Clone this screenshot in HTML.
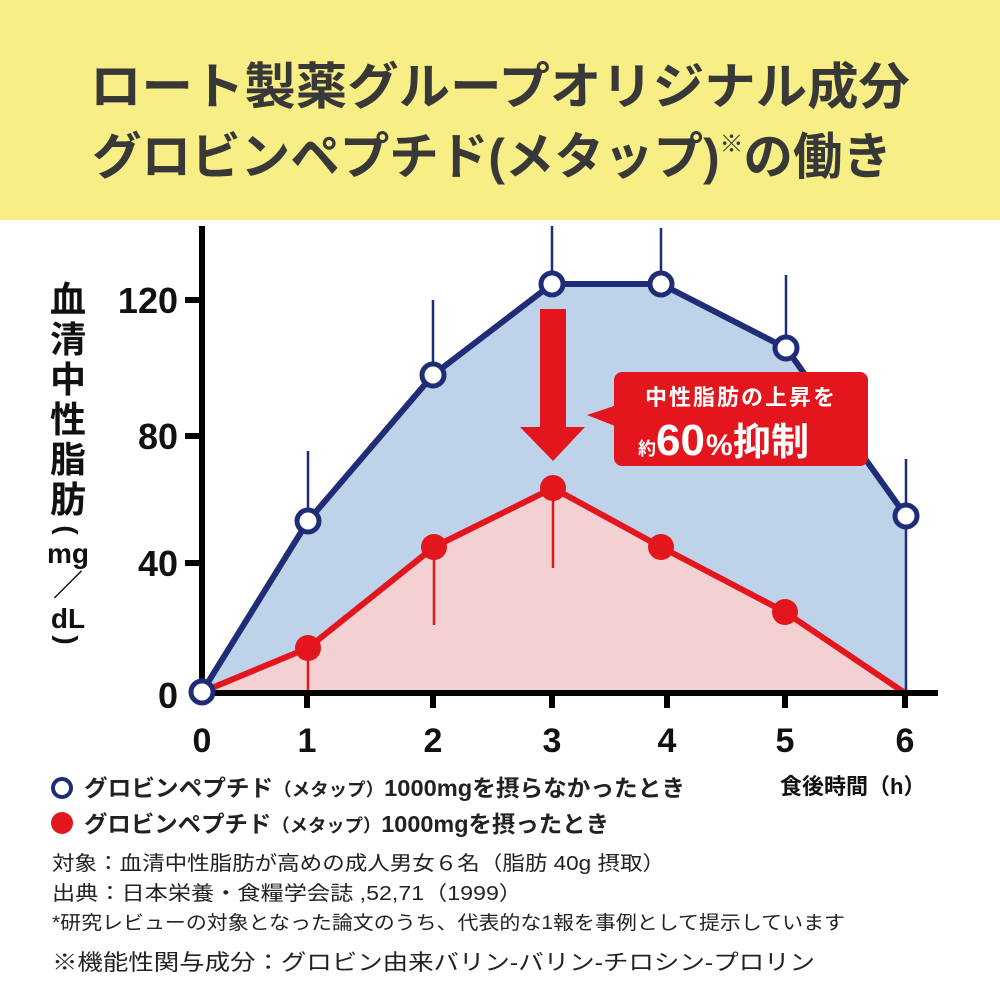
<!DOCTYPE html>
<html><head><meta charset="utf-8"><style>
body{margin:0;width:1000px;height:1000px;background:#fff;overflow:hidden;font-family:"Liberation Sans","Noto Sans CJK JP",sans-serif;}
.hdr{position:absolute;left:0;top:0;width:1000px;height:220px;background:#f7ee86;}
</style></head><body>
<div class="hdr"></div>
<svg width="1000" height="1000" style="position:absolute;left:0;top:0" font-family="Liberation Sans, Noto Sans CJK JP, sans-serif">
<text x="90" y="104" font-size="50" font-weight="bold" fill="#383838" textLength="820" lengthAdjust="spacingAndGlyphs">ロート製薬グループオリジナル成分</text>
<text x="92" y="174" font-size="50" font-weight="bold" fill="#383838" textLength="800" lengthAdjust="spacingAndGlyphs">グロビンペプチド(メタップ)<tspan font-size="24" dy="-22">※</tspan><tspan dy="22">の働き</tspan></text>
<polygon points="202,692 308,521 433,375 552,284 661,284 786,348 906,516 906,693 202,693" fill="#bed3e9"/>
<polygon points="202,692 308,648 434,547 553,488 661,547 785,612 905,693 202,693" fill="#f3d0d2"/>
<g stroke="#1f2d78" stroke-width="2.5">
<line x1="308" y1="451" x2="308" y2="521"/><line x1="433" y1="300" x2="433" y2="375"/><line x1="552" y1="226" x2="552" y2="284"/><line x1="661" y1="228" x2="661" y2="284"/><line x1="786" y1="275" x2="786" y2="348"/><line x1="906" y1="459" x2="906" y2="693"/></g>
<g stroke="#e3161e" stroke-width="2.5">
<line x1="308" y1="648" x2="308" y2="693"/><line x1="434" y1="547" x2="434" y2="625"/><line x1="553" y1="488" x2="553" y2="568"/></g>
<polyline points="202,692 308,521 433,375 552,284 661,284 786,348 906,516" fill="none" stroke="#1f2d78" stroke-width="6" stroke-linejoin="round"/>
<polyline points="202,692 308,648 434,547 553,488 661,547 785,612 905,693" fill="none" stroke="#e3161e" stroke-width="6" stroke-linejoin="round"/>
<g stroke="#000" stroke-width="6"><line x1="202" y1="226" x2="202" y2="696"/><line x1="199" y1="693" x2="938" y2="693"/>
<line x1="185" y1="300" x2="202" y2="300"/><line x1="185" y1="436" x2="202" y2="436"/><line x1="185" y1="563" x2="202" y2="563"/>
<line x1="307" y1="693" x2="307" y2="708"/><line x1="433" y1="693" x2="433" y2="708"/><line x1="552" y1="693" x2="552" y2="708"/><line x1="667" y1="693" x2="667" y2="708"/><line x1="785" y1="693" x2="785" y2="708"/><line x1="905" y1="693" x2="905" y2="708"/></g>
<g fill="#e3161e"><circle cx="308" cy="648" r="13"/><circle cx="434" cy="547" r="13"/><circle cx="553" cy="488" r="13"/><circle cx="661" cy="547" r="13"/><circle cx="785" cy="612" r="13"/></g>
<g fill="#fff" stroke="#1f2d78" stroke-width="5"><circle cx="308" cy="521" r="11"/><circle cx="433" cy="375" r="11"/><circle cx="552" cy="284" r="11"/><circle cx="661" cy="284" r="11"/><circle cx="786" cy="348" r="11"/><circle cx="906" cy="516" r="11"/><circle cx="202" cy="692" r="11"/></g>
<rect x="540" y="309" width="26" height="120" fill="#e3161e"/>
<polygon points="520,427 585,427 553,461" fill="#e3161e"/>
<rect x="614" y="372" width="254" height="94" rx="8" fill="#e3161e"/>
<polygon points="587,415 620,404 620,428" fill="#e3161e"/>
<text x="741" y="405" fill="#fff" font-size="22" font-weight="bold" text-anchor="middle" letter-spacing="2">中性脂肪の上昇を</text>
<text x="638" y="455" fill="#fff" font-size="18" font-weight="bold">約</text>
<text x="656" y="455" fill="#fff" font-size="44" font-weight="bold">60</text>
<text x="706" y="455" fill="#fff" font-size="30" font-weight="bold">%</text>
<text x="733" y="455" fill="#fff" font-size="38" font-weight="bold">抑制</text>
<g font-size="36" font-weight="bold" fill="#111" text-anchor="end"><text x="178" y="313">120</text><text x="178" y="449">80</text><text x="178" y="576">40</text><text x="178" y="708">0</text></g>
<g font-size="34" font-weight="bold" fill="#111" text-anchor="middle"><text x="202" y="752">0</text><text x="307" y="752">1</text><text x="433" y="752">2</text><text x="552" y="752">3</text><text x="667" y="752">4</text><text x="785" y="752">5</text><text x="905" y="752">6</text></g>
<g font-size="36" font-weight="bold" fill="#111" text-anchor="middle">
<text x="68" y="312">血</text><text x="68" y="352">清</text><text x="68" y="392">中</text><text x="68" y="432">性</text><text x="68" y="472">脂</text><text x="68" y="512">肪</text>
<text x="68" y="540" font-size="28" transform="rotate(90 68 530)">(</text>
<text x="68" y="563" font-size="28">mg</text><text x="68" y="596" font-size="30">／</text><text x="68" y="628" font-size="28">dL</text>
<text x="68" y="650" font-size="28" transform="rotate(90 68 640)">)</text></g>
<circle cx="62" cy="788" r="9" fill="#fff" stroke="#1f2d78" stroke-width="4"/>
<circle cx="62" cy="823" r="11" fill="#e3161e"/>
<text x="780" y="794" font-size="22" font-weight="bold" fill="#111">食後時間（h）</text>
<text x="84" y="796" font-size="23" font-weight="bold" fill="#222" textLength="601" lengthAdjust="spacingAndGlyphs">グロビンペプチド<tspan font-size="18">（メタップ）</tspan>1000mgを摂らなかったとき</text>
<text x="84" y="832" font-size="23" font-weight="bold" fill="#222" textLength="525" lengthAdjust="spacingAndGlyphs">グロビンペプチド<tspan font-size="18">（メタップ）</tspan>1000mgを摂ったとき</text>
<text x="52" y="870" font-size="20" fill="#222" textLength="613" lengthAdjust="spacingAndGlyphs">対象：血清中性脂肪が高めの成人男女６名（脂肪 40g 摂取）</text>
<text x="52" y="900" font-size="20" fill="#222" textLength="470" lengthAdjust="spacingAndGlyphs">出典：日本栄養・食糧学会誌 ,52,71（1999）</text>
<text x="52" y="929" font-size="19" fill="#222" textLength="793" lengthAdjust="spacingAndGlyphs">*研究レビューの対象となった論文のうち、代表的な1報を事例として提示しています</text>
<text x="52" y="970" font-size="22" fill="#222" textLength="763" lengthAdjust="spacingAndGlyphs">※機能性関与成分：グロビン由来バリン-バリン-チロシン-プロリン</text>
</svg>
</body></html>
